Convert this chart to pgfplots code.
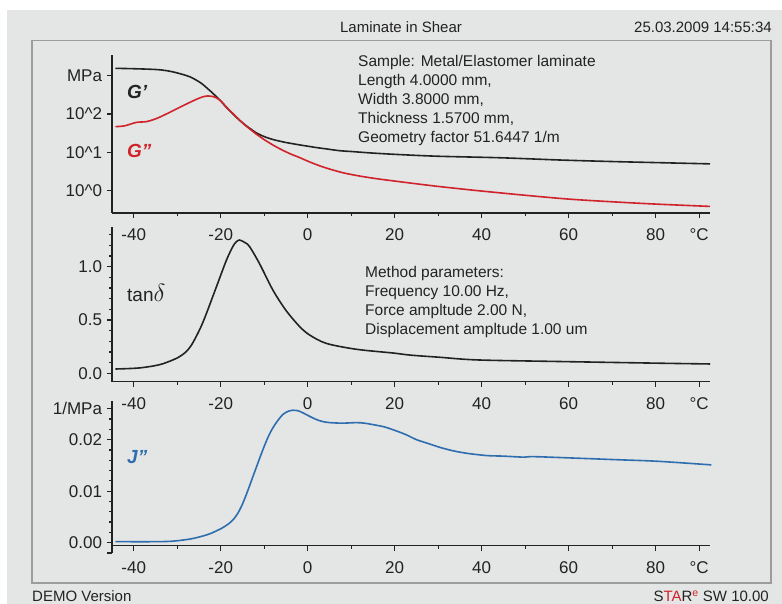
\documentclass[border=0pt]{standalone}
\usepackage{fontspec}
\setmainfont{Liberation Sans}
\usepackage{pgfplots}
\pgfplotsset{compat=1.18}
\usepackage{pgfplotstable}
\definecolor{bg}{HTML}{E4E5E5}
\definecolor{framec}{HTML}{9C9C9C}
\definecolor{ink}{HTML}{222222}
\definecolor{gred}{HTML}{D0232A}
\definecolor{jblue}{HTML}{2F6EAE}

\pgfplotstableread{
T G1
-44.2 1549
-40 1514
-35 1445
-32.5 1349
-30 1175
-27.1 933
-25 692
-24 575
-23 457
-22 363
-21 282
-20 219
-19 162
-18 123
-17 95.5
-16 74.1
-15 58.9
-14 47.9
-13 39.8
-12 33.1
-11 28.8
-10 25.7
-9 23.4
-8 21.6
-7 20.2
-6 19.05
-5 18.0
-4 17.2
-2 15.7
0 14.45
2 13.3
4 12.4
7.4 11.0
10 10.5
15 9.55
21.4 8.7
30 7.9
44.5 7.2
58 6.3
70 5.75
80 5.4
92.5 5.0
}\gone

\pgfplotstableread{
T G2
-44.2 46.8
-42.1 49.0
-39.4 60.3
-37.1 63.1
-34.8 75.9
-32.5 100
-29.5 148
-26.4 219
-25 257
-24 282
-23 295
-22 288
-21 263
-20 219
-19 166
-18 126
-17 97.7
-16 75.9
-15 58.9
-14 46.8
-13 38.0
-12 30.9
-11 25.7
-10 21.4
-9 18.2
-8 15.5
-6 11.7
-4 9.12
-2 7.41
0 5.89
2 4.79
4 3.98
8 2.95
12 2.40
16 2.04
20 1.78
25 1.51
30 1.29
35 1.12
40 0.977
50 0.759
60 0.603
70 0.513
80 0.447
92.5 0.389
}\gtwo

\pgfplotstableread{
T tand
-44.2 0.040
-38.7 0.050
-34.1 0.080
-31.0 0.125
-29.5 0.155
-28.0 0.200
-26.8 0.260
-25.7 0.340
-24.5 0.440
-23.3 0.560
-21.0 0.810
-18.7 1.060
-17.2 1.190
-16.5 1.230
-15.7 1.250
-14.6 1.230
-13.4 1.190
-11.1 1.030
-8.0 0.780
-5.0 0.590
-1.9 0.440
0.4 0.360
4.3 0.280
11.2 0.225
19.6 0.190
23.7 0.170
30.4 0.150
39.1 0.125
58.3 0.110
81.4 0.094
92.9 0.087
}\tand

\pgfplotstableread{
T J2
-44.2 0.0002
-35 0.0002
-31 0.0003
-27.1 0.0007
-25 0.0011
-23.3 0.0015
-22 0.0019
-21 0.0023
-20 0.0027
-19 0.0032
-18 0.0038
-17 0.0046
-16 0.0058
-15 0.0075
-14 0.0096
-13 0.0119
-12 0.0142
-11 0.0165
-10 0.0187
-9 0.0207
-8 0.0223
-6.8 0.0238
-5.7 0.0249
-4.5 0.0255
-3.4 0.0257
-2.2 0.0256
-1.1 0.0252
0.5 0.0245
2.0 0.0239
3.5 0.0235
5.1 0.0233
8 0.0232
11.2 0.0233
13 0.0232
15.1 0.0229
17.5 0.0225
19.7 0.0219
22.5 0.0210
25.0 0.0200
27.5 0.0193
30.4 0.0185
33.6 0.0178
37 0.0173
41.3 0.0169
45 0.0168
49.7 0.0166
52 0.0167
62 0.0164
71.3 0.0161
80.5 0.0158
92.8 0.0151
}\jtwo

\pgfplotsset{
  panel/.style={
    scale only axis, width=598pt, anchor=south west,
    xmin=-45, xmax=92.5,
    axis x line=bottom, axis y line=left,
    axis line style={-, ink, line width=1.5pt},
    tick align=outside,
    major tick length=5pt, minor tick length=3pt,
    every tick/.append style={ink, line width=1.2pt},
    xtick={-40,-20,0,20,40,60,80,90},
    xticklabels={-40,-20,0,20,40,60,80,°C},
    minor xtick={-30,-10,10,30,50,70},
    tick label style={font=\fontsize{17}{20}\selectfont, text=ink},
    xticklabel style={yshift=-7pt},
    yticklabel style={xshift=-1.5pt},
    scaled y ticks=false,
  },
  curve/.style={line width=1.6pt, smooth, no marks},
}

\begin{document}
\begin{tikzpicture}
\fill[white] (0pt,0pt) rectangle (782pt,604pt);
\fill[bg] (7pt,0pt) rectangle (782pt,594pt);
\draw[framec, line width=1.5pt] (32pt,21pt) rectangle (771pt,563.5pt);

\node[anchor=base, inner sep=0pt, text=ink, font=\fontsize{15}{18}\selectfont] at (401pt,571pt) {Laminate in Shear};
\node[anchor=base east, inner sep=0pt, text=ink, font=\fontsize{15}{18}\selectfont] at (772pt,571pt) {25.03.2009 14:55:34};
\node[anchor=base west, inner sep=0pt, text=ink, font=\fontsize{15}{18}\selectfont] at (32pt,2.2pt) {DEMO Version};
\node[anchor=base east, inner sep=0pt, text=ink, font=\fontsize{15}{18}\selectfont] at (769pt,2.2pt) {S\textcolor{gred}{TA}R\textsuperscript{\textcolor{gred}{e}} SW 10.00};

% top panel
\begin{axis}[panel, at={(112pt,391pt)}, height=158pt,
  ymode=log, ymin=0.2618, ymax=3451,
  ytick={1,10,100,1000}, yminorticks=false,
  yticklabels={10\char"5E 0,10\char"5E 1,10\char"5E 2,MPa}]
\addplot[curve, ink] table[x=T,y=G1] {\gone};
\addplot[curve, gred] table[x=T,y=G2] {\gtwo};
\end{axis}

% middle panel
\begin{axis}[panel, at={(112pt,222.3pt)}, height=155pt,
  ymin=-0.079, ymax=1.375,
  ytick={0,0.5,1}, yticklabels={0.0,0.5,1.0},
  minor ytick={0.1,0.2,0.3,0.4,0.6,0.7,0.8,0.9,1.1,1.2,1.3}]
\addplot[curve, ink] table[x=T,y=tand] {\tand};
\end{axis}

% bottom panel
\begin{axis}[panel, at={(112pt,58.3pt)}, height=144.7pt,
  ymin=-0.00058, ymax=0.0275, clip=false,
  ytick={0,0.01,0.02,0.026}, yticklabels={0.00,0.01,0.02,1/MPa},
  minor ytick={0.002,0.004,0.006,0.008,0.012,0.014,0.016,0.018,0.022,0.024}]
\addplot[curve, jblue] table[x=T,y=J2] {\jtwo};
\draw[ink, line width=1.5pt] (axis cs:-45,-0.00058) -- (axis cs:-45,-0.002);
\draw[ink, line width=1.2pt] (axis cs:-45,-0.002) -- ++(-5pt,0pt);
\end{axis}

% curve labels
\node[anchor=base west, inner sep=0pt, text=ink, font=\fontsize{19}{22}\selectfont\bfseries\itshape] at (127pt,505pt) {G\char"27};
\node[anchor=base west, inner sep=0pt, text=gred, font=\fontsize{19}{22}\selectfont\bfseries\itshape] at (127pt,446.5pt) {G\char"22};
\node[anchor=base west, inner sep=0pt, text=ink, font=\fontsize{19}{22}\selectfont] at (127pt,302.3pt) {tan{\fontsize{23}{26}\selectfont$\delta$}};
\node[anchor=base west, inner sep=0pt, text=jblue, font=\fontsize{19}{22}\selectfont\bfseries\itshape] at (127pt,140pt) {J\char"22};

% annotation blocks
\begin{scope}[every node/.style={anchor=base west, inner sep=0pt, text=ink, font=\fontsize{15.5}{19}\selectfont}]
\node at (358pt,537pt) {Sample: Metal/Elastomer laminate};
\node at (358pt,518pt) {Length 4.0000 mm,};
\node at (358pt,499pt) {Width 3.8000 mm,};
\node at (358pt,480pt) {Thickness 1.5700 mm,};
\node at (358pt,461pt) {Geometry factor 51.6447 1/m};
\node at (365pt,326.3pt) {Method parameters:};
\node at (365pt,307.6pt) {Frequency 10.00 Hz,};
\node at (365pt,288.6pt) {Force ampltude 2.00 N,};
\node at (365pt,269.9pt) {Displacement ampltude 1.00 um};
\end{scope}
\end{tikzpicture}
\end{document}
